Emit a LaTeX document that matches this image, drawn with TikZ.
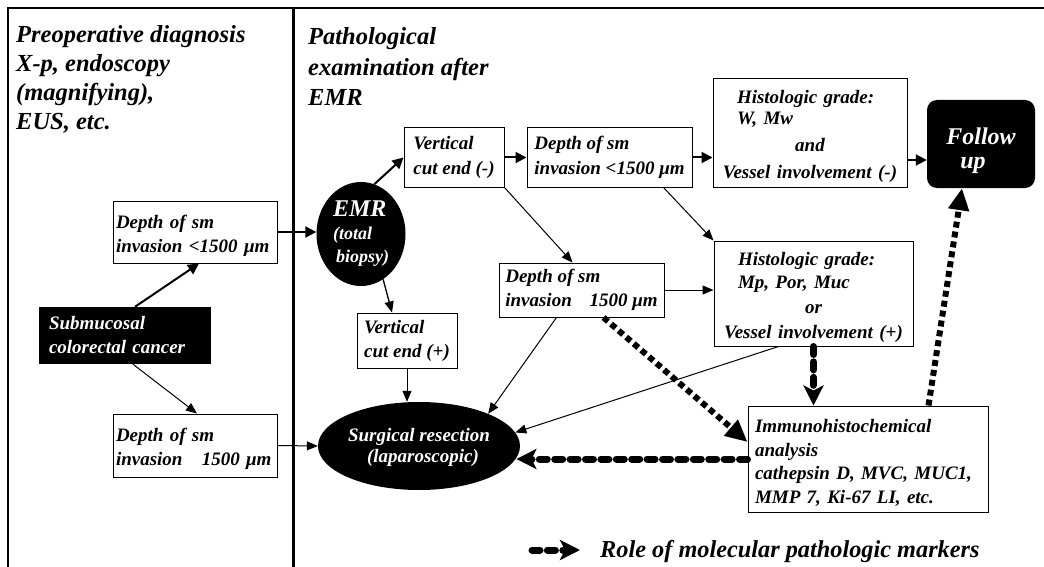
\documentclass[tikz,border=0pt]{standalone}
\usepackage{fontspec}
\setmainfont{Liberation Serif}
\usetikzlibrary{arrows.meta,shapes.geometric,calc}
\newcommand\fsz[2]{\fontsize{#1}{#2}\selectfont\bfseries\itshape}

\begin{document}
\begin{tikzpicture}[x=1pt,y=-1pt,
  box/.style={draw, line width=1pt, fill=white, align=left, inner ysep=0pt, font=\fsz{19}{24},
              execute at begin node={\rule{0pt}{21pt}}},
  darkbox/.style={fill=black, text=white, align=left, inner ysep=0pt, font=\fsz{19}{24}},
  blob/.style={ellipse, fill=black, text=white, inner sep=0pt},
  flow/.style={line width=1pt, -{Triangle[length=11pt,width=9pt]}},
  strongflow/.style={line width=2pt, -{Triangle[length=11pt,width=11pt]}},
  sqdash/.style={line width=6pt, dash pattern=on 6pt off 4pt, -{Triangle[length=22pt,width=20pt]}},
  molarrow/.style={line width=7pt, line cap=round, dash pattern=on 8pt off 7.4pt, -{Stealth[length=20pt,width=20pt,inset=5pt]}},
  heading/.style={align=left, inner sep=0pt, anchor=base west}
]
\useasboundingbox (0,0) rectangle (1044,567);

% frame and column divider
\draw[line width=1.5pt] (1044,8) -- (8,8) -- (8,567);
\draw[line width=2.5pt] (293.5,8) -- (293.5,567);

% column headings (anchored at the baseline of their last line)
\node[heading, font=\fsz{24.5}{29}] (pre) at (16,130)
  {Preoperative diagnosis\\X-p, endoscopy\\(magnifying),\\EUS, etc.};
\node[heading, font=\fsz{24.5}{30.5}] (path) at (308,106)
  {Pathological\\examination after\\EMR};

% left column
\node[box, minimum height=62pt, inner xsep=3pt, text width=158pt] (d1) at (195,232)
  {Depth of sm\\invasion <1500 μm};
\node[darkbox, minimum width=172pt, minimum height=57pt, inner xsep=10pt, text width=152pt] (sub) at (125,335.5)
  {Submucosal\\colorectal cancer};
\node[box, minimum height=63pt, inner xsep=3pt, text width=158pt] (d2) at (195,445.5)
  {Depth of sm\\invasion\hspace*{13pt} 1500 μm};

% right column
\node[blob, minimum width=89pt, minimum height=104pt, align=left, font=\fsz{18}{23}] (emr) at (361,234)
  {{\fontsize{24}{24}\selectfont EMR}\\(total\\\,biopsy)};
\node[box, minimum width=100pt, minimum height=59pt, font=\fsz{19}{25}] (vm) at (454,157.5)
  {Vertical\\cut end (-)};
\node[box, minimum width=165pt, minimum height=59pt, font=\fsz{19}{25}] (du) at (609.5,157.5)
  {Depth of sm\\invasion <1500 μm};
\node[box, minimum height=108pt, inner xsep=4pt, text width=186pt, font=\fsz{19}{21}] (hw) at (810,133)
  {\hspace*{20pt}Histologic grade:\\\hspace*{20pt}W, Mw\\[6pt]\makebox[\hsize]{and}\\[6pt]\makebox[\hsize]{Vessel involvement (-)}};
\node[rounded corners=10pt, fill=black, text=white, minimum width=108pt, minimum height=88pt, align=left, font=\fsz{24}{24}] (fu) at (981,144)
  {\rule{0pt}{31pt}Follow\\\hspace*{14pt}up};
\node[box, minimum height=105pt, inner xsep=4pt, text width=191pt, font=\fsz{19}{23}] (hm) at (813.5,293.5)
  {\hspace*{20pt}Histologic grade:\\\hspace*{20pt}Mp, Por, Muc\\[2pt]\makebox[\hsize]{or}\\[2pt]\makebox[\hsize]{Vessel involvement (+)}};
\node[box, minimum width=165pt, minimum height=54pt] (dm) at (581.5,290)
  {Depth of sm\\invasion\hspace*{13pt} 1500 μm};
\node[box, minimum width=100pt, minimum height=55pt] (vp) at (407,340.5)
  {Vertical\\cut end (+)};
\node[blob, minimum width=202pt, minimum height=88pt, align=center, font=\fsz{19}{21}] (sr) at (419,446)
  {\rule{0pt}{17pt}Surgical resection\\\hspace*{8pt}(laparoscopic)};
\node[box, minimum height=106pt, inner xsep=7pt, text width=226pt, font=\fsz{19}{23.6}] (ih) at (868,459)
  {Immunohistochemical\\analysis\\cathepsin D, MVC, MUC1,\\MMP 7, Ki-67 LI, etc.};

% connectors
\draw[strongflow] ([xshift=10pt]sub.north) -- ([xshift=4pt]d1.south);
\draw[flow] ([xshift=8pt]sub.south) -- ([xshift=2pt]d2.north);
\draw[strongflow] (d1.east) -- (d1.east -| emr.west);
\draw[strongflow] (emr.75) -- (vm.west);
\draw[strongflow] (vm.east) -- (du.west);
\draw[strongflow] (du.east) -- (du.east -| hw.west);
\draw[strongflow] ([yshift=-27pt]hw.east) -- ([yshift=-27pt]hw.east -| fu.west);
\draw[flow] (vm.south east) -- ([xshift=-9pt]dm.north);
\draw[flow] ([xshift=-29pt]du.south east) -- (hm.north west);
\draw[flow] (dm.east) -- (dm.east -| hm.west);
\draw[flow, line width=1.3pt] (emr.-64) -- ([xshift=-15pt]vp.north);
\draw[flow] (vp.south) -- (vp.south |- sr.north);
\draw[flow] ([xshift=-25pt]dm.south) -- (sr.25);
\draw[flow] ([xshift=-35pt]hm.south) -- (sr.8);
\draw[flow] (d2.east) -- (sr.west);

% molecular marker pathways
\draw[sqdash] ([xshift=22pt]dm.south) -- ([yshift=17pt]ih.west);
\draw[molarrow] (hm.south) -- (hm.south |- ih.north);
\draw[molarrow] (ih.west) -- (ih.west -| sr.-7);
\draw[sqdash] ([xshift=-60pt]ih.north east) -- ([xshift=-19pt]fu.south);

% legend
\coordinate (ls) at (532,550);
\coordinate (le) at (580,550);
\draw[molarrow] (ls) -- (le);
\node[font=\fsz{24.3}{24}, anchor=base west, inner sep=0pt] (leg) at (600,557)
  {Role of molecular pathologic markers};
\end{tikzpicture}
\end{document}
